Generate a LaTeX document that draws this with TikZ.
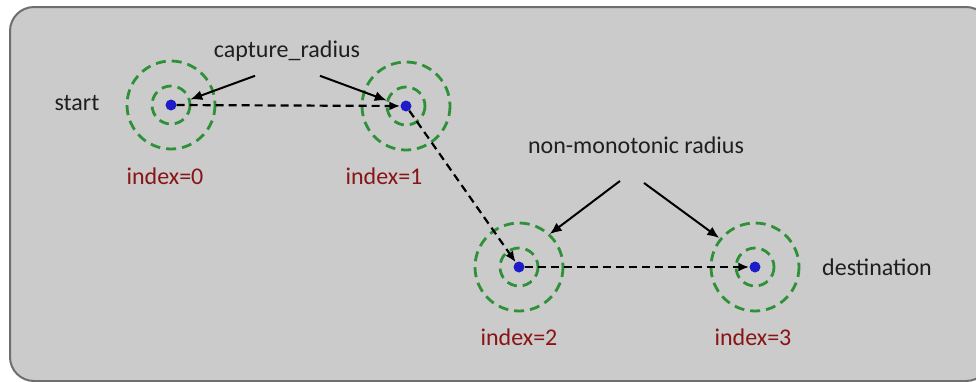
\documentclass[tikz,border=0pt]{standalone}
\usepackage{fontspec}
\setmainfont{Carlito}
\usetikzlibrary{arrows.meta,calc}
\definecolor{panelgray}{HTML}{CBCBCB}
\definecolor{panelline}{HTML}{6E6E6E}
\definecolor{ringgreen}{HTML}{2E9138}
\definecolor{dotblue}{HTML}{1C1CC8}
\definecolor{idxred}{HTML}{8A1414}

\begin{document}
\begin{tikzpicture}[x=1pt,y=-1pt,
    wp/.style={circle,fill=dotblue,inner sep=0pt,minimum size=11pt},
    ring/.style={draw=ringgreen,line width=2.8pt,dash pattern=on 10pt off 6pt},
    hop/.style={-{Latex[length=11pt,width=9pt]},line width=2.2pt,dash pattern=on 8pt off 5pt},
    callout/.style={-{Latex[length=12pt,width=10pt]},line width=2pt},
    lbl/.style={text=black!88,font=\fontsize{24}{26}\selectfont},
    idx/.style={text=idxred,font=\fontsize{24}{26}\selectfont}]
    \useasboundingbox (0,0) rectangle (976,381);
    \draw[fill=panelgray,draw=panelline,line width=2pt,rounded corners=24pt] (10,7) rectangle (990,381);
    % waypoints
    \node[wp] (p0) at (171,105) {};
    \node[wp] (p1) at (406,106) {};
    \node[wp] (p2) at (519,267) {};
    \node[wp] (p3) at (755,267) {};
    \foreach \p in {p0,p1,p2,p3} {
        \draw[ring] (\p) circle (19);
        \draw[ring] (\p) circle (44);
    }
    \draw[hop] (p0) -- (p1);
    \draw[hop] (p1) -- (p2);
    \draw[hop] (p2) -- (p3);
    % labels
    \node[lbl] (start) at (77,103) {start};
    \node[lbl] (dest) at (877,267) {destination};
    \node[idx] (i0) at (165,176) {index=0};
    \node[idx] (i1) at (384,176) {index=1};
    \node[idx] (i2) at (519,337) {index=2};
    \node[idx] (i3) at (753,337) {index=3};
    \node[lbl] (cap) at (287,51) {capture\_radius};
    \node[lbl] (nonmono) at (636,145) {non-monotonic radius};
    % callouts
    \draw[callout] ($(cap.south)+(-32,11)$) -- ($(p0)+(16:20pt)$);
    \draw[callout] ($(cap.south)+(33,11)$) -- ($(p1)+(164:20pt)$);
    \draw[callout] ($(nonmono.south)+(-16,24)$) -- ($(p2)+(47:45pt)$);
    \draw[callout] ($(nonmono.south)+(8,26)$) -- ($(p3)+(141:46pt)$);
\end{tikzpicture}
\end{document}
